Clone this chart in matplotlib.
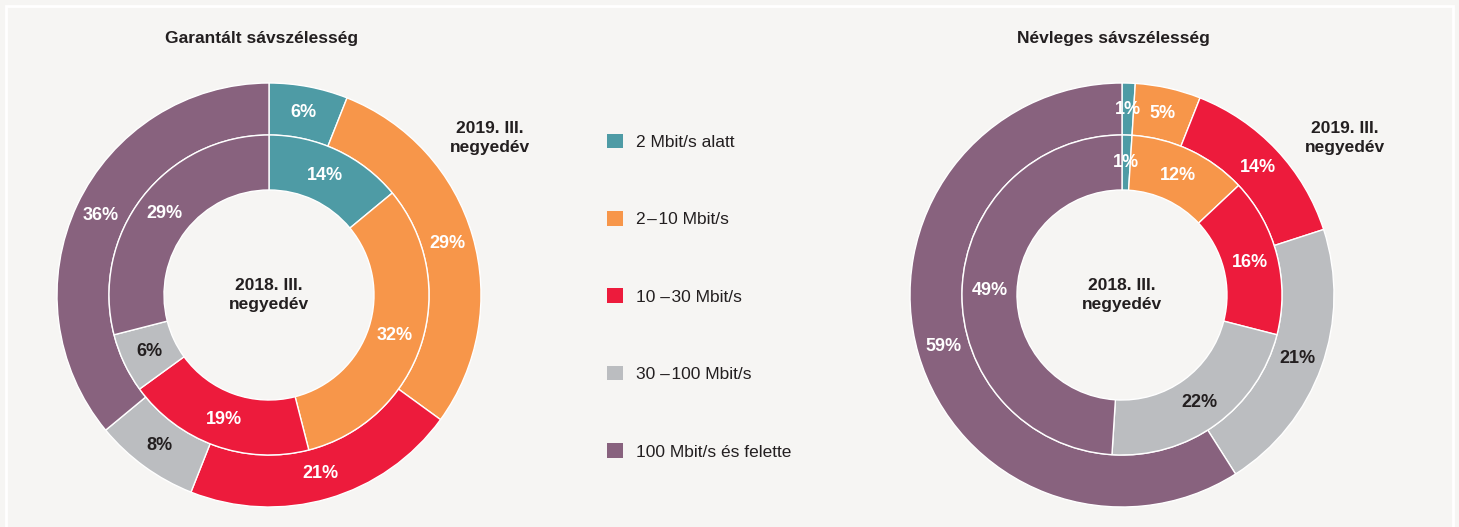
import matplotlib
matplotlib.use("Agg")
import matplotlib.pyplot as plt
from matplotlib.patches import Patch, Rectangle
import numpy as np

plt.rcParams['font.family'] = ['Liberation Sans Narrow', 'Liberation Sans', 'DejaVu Sans']

# categories and colours
categories = ['2 Mbit/s alatt', '2\u200a\u2013\u200a10 Mbit/s', '10 \u2013\u200a30 Mbit/s',
              '30 \u2013\u200a100 Mbit/s', '100 Mbit/s és felette']
colors = ['#4e9ba5', '#f7964a', '#ed1b3c', '#bbbdc0', '#88627e']

# Garantált sávszélesség
guar_2019 = [6, 29, 21, 8, 36]
guar_2018 = [14, 32, 19, 6, 29]
# Névleges sávszélesség
nom_2019 = [1, 5, 14, 21, 59]
nom_2018 = [1, 12, 16, 22, 49]

titles = ['Garantált sávszélesség', 'Névleges sávszélesség']
inner_label = '2018. III.\nnegyedév'
outer_label = '2019. III.\nnegyedév'

bg = '#f6f5f3'
txt = '#231f20'
FS = 12.5
W, H = 1459, 527
R_OUT, R_MID, R_IN = 212, 160, 105

fig = plt.figure(figsize=(W / 100, H / 100), dpi=100, facecolor=bg)
ax = fig.add_axes([0, 0, 1, 1])
ax.set_facecolor(bg)


def ring_labels(vals, center, r_in, r_out):
    cum = np.cumsum([0] + vals[:-1])
    for i, v in enumerate(vals):
        ang = np.deg2rad(90 - (cum[i] + v / 2) * 3.6)
        r = (r_in + r_out) / 2
        x = center[0] + r * np.cos(ang)
        y = center[1] + r * np.sin(ang)
        c = txt if i == 3 else 'white'
        ax.text(x, y, f'{v}%', ha='center', va='center', fontsize=FS + 0.5,
                fontweight='bold', color=c)


def donut(outer, inner, center):
    ax.pie(outer, radius=R_OUT, center=center, startangle=90, counterclock=False,
           colors=colors, wedgeprops=dict(width=R_OUT - R_MID, edgecolor='white', linewidth=1))
    ax.pie(inner, radius=R_MID, center=center, startangle=90, counterclock=False,
           colors=colors, wedgeprops=dict(width=R_MID - R_IN, edgecolor='white', linewidth=1))
    ring_labels(outer, center, R_MID, R_OUT)
    ring_labels(inner, center, R_IN, R_MID)
    ax.text(center[0], center[1], inner_label, ha='center', va='center', fontsize=FS,
            fontweight='bold', color=txt, linespacing=1.3)


centers = [(269, H - 295), (1122, H - 295)]
donut(guar_2019, guar_2018, centers[0])
donut(nom_2019, nom_2018, centers[1])

ax.text(262, H - 38, titles[0], ha='center', va='center', fontsize=FS,
        fontweight='bold', color=txt)
ax.text(1113, H - 38, titles[1], ha='center', va='center', fontsize=FS,
        fontweight='bold', color=txt)
ax.text(490, H - 138, outer_label, ha='center', va='center', fontsize=FS,
        fontweight='bold', color=txt, linespacing=1.3)
ax.text(1345, H - 138, outer_label, ha='center', va='center', fontsize=FS,
        fontweight='bold', color=txt, linespacing=1.3)

ax.set_xlim(0, W)
ax.set_ylim(0, H)
ax.set_aspect('auto')
ax.axis('off')

handles = [Patch(facecolor=c, edgecolor='none') for c in colors]
fig.legend(handles, categories, loc='upper left', bbox_to_anchor=(591 / W, 1 - 118 / H),
           frameon=False, fontsize=FS, handlelength=0.92, handleheight=0.92,
           handletextpad=0.75, labelspacing=3.52, labelcolor=txt)

# white frame
fig.patches.append(Rectangle((6 / W, -0.05), 1447 / W, 1 - 6 / H + 0.05, transform=fig.transFigure,
                             fill=False, edgecolor='white', linewidth=2))

fig.savefig('out.png', dpi=100, facecolor=bg)
